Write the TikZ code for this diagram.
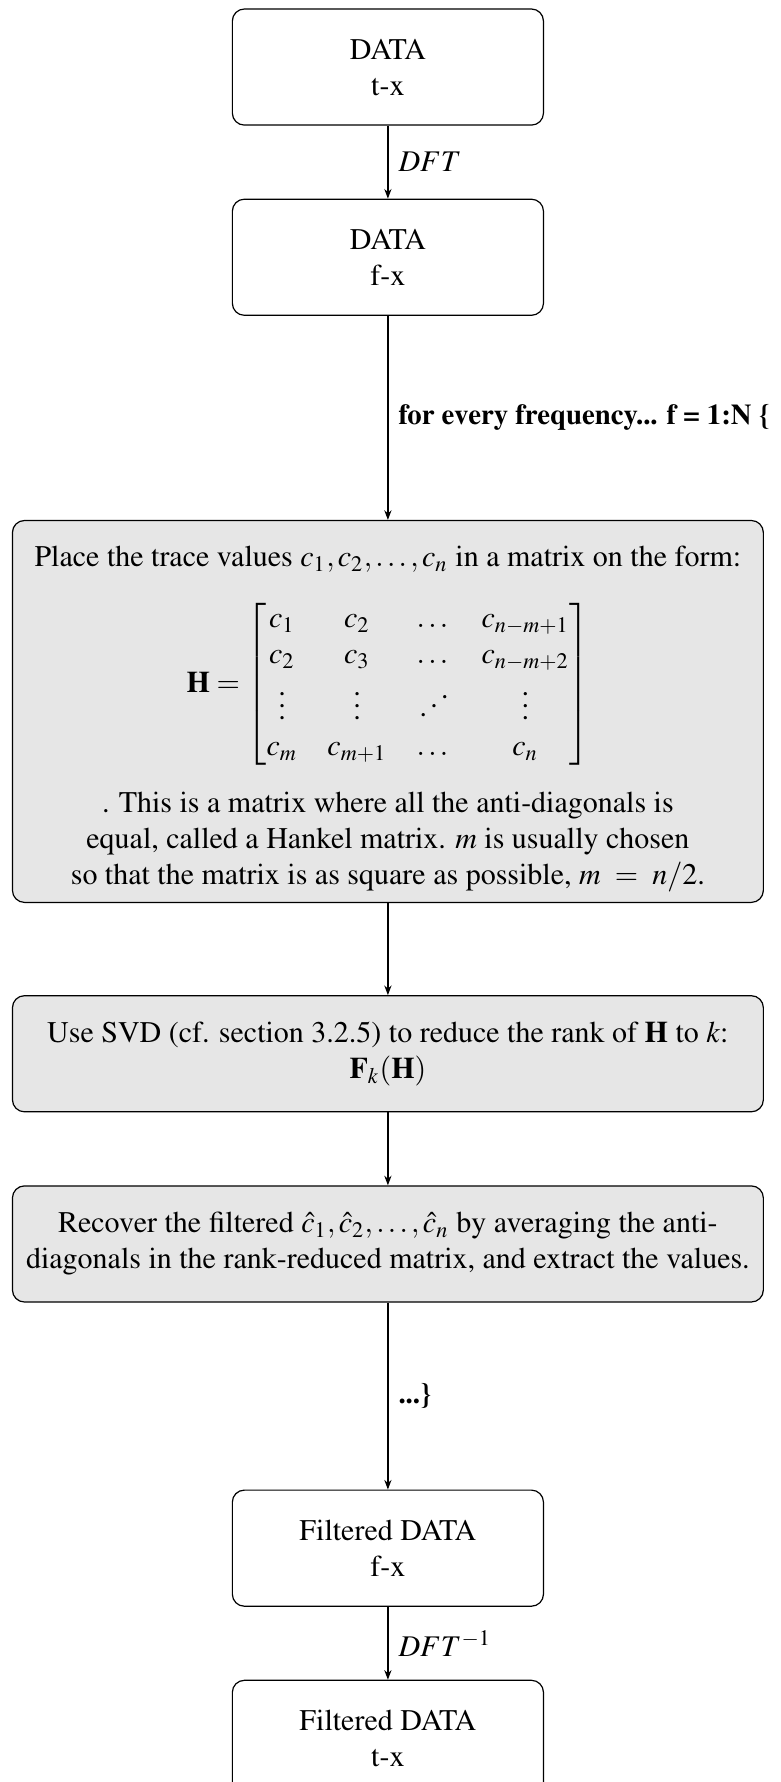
\documentclass[tikz,border=0pt]{standalone}
\usepackage[T1]{fontenc}
\usepackage{amsmath,amssymb}
\usepackage{mathptmx}
\usepackage{xcolor}
\usepackage{tikz}
\usetikzlibrary{arrows.meta,positioning,calc}
\definecolor{procfill}{HTML}{E6E6E6}

\begin{document}
\begin{tikzpicture}[
  data/.style={draw=black, rounded corners=4pt, align=center, fill=white,
               minimum width=103.7pt, minimum height=38.7pt},
  proc/.style={draw=black, rounded corners=4pt, align=center, fill=procfill,
               minimum width=250.3pt, minimum height=38.7pt},
  looplabel/.style={right, font=\fontsize{9.6pt}{11.5pt}\selectfont\bfseries},
  arr/.style={-{Stealth[length=3.2pt,width=2.4pt]}, black}
]
\useasboundingbox (0,0) rectangle (260pt,-594pt);
\node[data] (tx) at (129.3pt,-22.35pt) {DATA\\t-x};
\node[data, below=24.3pt of tx] (fx) {DATA\\f-x};
\node[proc, below=68pt of fx, minimum height=127.3pt] (hankel)
  {\rule{0pt}{12pt}Place the trace values $c_1,c_2,\ldots,c_n$ in a matrix on the form:\\[9pt]
   $\mathbf{H} = \begin{bmatrix}
     c_1 & c_2 & \dots & c_{n-m+1}\\
     c_2 & c_3 & \dots & c_{n-m+2}\\
     \vdots & \vdots & \reflectbox{$\ddots$} & \vdots\\
     c_m & c_{m+1} & \dots & c_n
   \end{bmatrix}$\\[7.5pt]
   . This is a matrix where all the anti-diagonals is\\
   equal, called a Hankel matrix. $m$ is usually chosen\\
   so that the matrix is as square as possible, $m \ = \ n/2$.};
\node[proc, below=30.7pt of hankel] (svd)
  {Use SVD (cf. section 3.2.5) to reduce the rank of $\mathbf{H}$ to $k$:\\
   $\mathbf{F}_k(\mathbf{H})$};
\node[proc, below=24.3pt of svd] (recover)
  {Recover the filtered $\hat{c}_1,\hat{c}_2,\ldots,\hat{c}_n$ by averaging the anti-\\
   diagonals in the rank-reduced matrix, and extract the values.};
\node[data, below=62.3pt of recover] (ffx) {Filtered DATA\\f-x};
\node[data, below=24.3pt of ffx] (ftx) {Filtered DATA\\t-x};
\draw[arr] (tx) -- node[right] {$DFT$} (fx);
\draw[arr] (fx) -- node[looplabel] {for every frequency... f = 1:N \{} (hankel);
\draw[arr] (hankel) -- (svd);
\draw[arr] (svd) -- (recover);
\draw[arr] (recover) -- node[looplabel] {...\}} (ffx);
\draw[arr] (ffx) -- node[right] {$DFT^{-1}$} (ftx);
\end{tikzpicture}
\end{document}
